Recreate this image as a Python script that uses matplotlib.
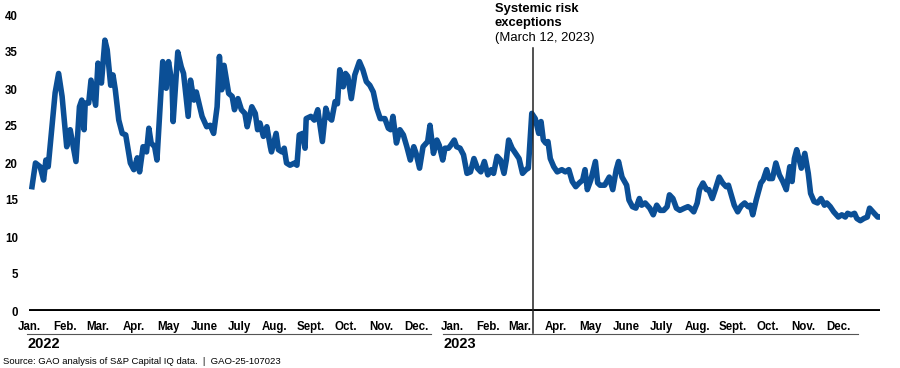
import matplotlib
matplotlib.use("Agg")
import matplotlib.pyplot as plt
import matplotlib.dates as mdates
import matplotlib.transforms as mtransforms
import numpy as np

plt.rcParams['font.family'] = ['Liberation Sans', 'DejaVu Sans']

# data: days after Jan. 3, 2022 and index level
start = np.datetime64('2022-01-03')
days = [0, 3, 7, 10, 12, 14, 17, 20, 23, 26, 30, 33, 38, 41, 43, 45, 46, 49, 51, 55,
        57, 60, 63, 65, 68, 70, 72, 75, 78, 81, 85, 88, 91, 93, 96, 99, 101, 103, 106, 108,
        111, 113, 116, 118, 121, 122, 126, 129, 131, 135, 137, 140, 142, 147, 151, 154, 157, 160, 162, 164,
        166, 170, 173, 175, 178, 181, 184, 186, 190, 193, 195, 197, 200, 203, 206, 207, 211, 213, 216, 218,
        220, 223, 227, 229, 231, 234, 236, 237, 241, 244, 247, 251, 254, 256, 259, 262, 264, 266, 269, 271,
        273, 276, 279, 283, 286, 289, 292, 295, 298, 301, 305, 308, 310, 312, 315, 318, 321, 324, 327, 330,
        332, 335, 338, 342, 344, 347, 350, 352, 355, 357, 360, 362, 365, 367, 370, 373, 376, 379, 382, 385,
        388, 391, 394, 397, 399, 402, 405, 408, 410, 412, 415, 418, 421, 424, 427, 429, 432, 435, 438, 440,
        442, 444, 446, 448, 451, 454, 458, 461, 464, 467, 470, 473, 476, 478, 480, 483, 487, 489, 491, 495,
        499, 502, 505, 507, 510, 514, 516, 519, 522, 525, 527, 530, 534, 537, 540, 543, 546, 549, 551, 554,
        557, 560, 564, 567, 569, 572, 575, 577, 580, 583, 585, 588, 591, 594, 597, 600, 602, 605, 607, 610,
        613, 616, 619, 621, 623, 626, 630, 632, 635, 637, 640, 643, 646, 649, 652, 655, 657, 659, 661, 665,
        668, 671, 673, 676, 679, 682, 685, 687, 690, 693, 697, 700, 703, 705, 708, 711, 713, 716, 719, 722,
        724, 728, 731, 733]
values = [16.8, 20.0, 19.5, 17.7, 20.4, 19.5, 24.5, 29.5, 32.1, 29.0, 22.2, 24.5, 20.2, 27.6, 28.5, 24.5, 28.1, 28.1, 31.2, 27.8,
          33.5, 30.8, 36.6, 35.3, 30.5, 31.9, 29.9, 25.8, 24.0, 23.8, 20.0, 19.1, 20.7, 18.8, 22.2, 21.5, 24.7, 22.7, 22.2, 20.4,
          28.5, 33.7, 30.1, 33.7, 30.8, 25.6, 35.0, 33.0, 32.1, 26.3, 31.2, 28.5, 29.6, 26.3, 24.9, 25.1, 24.0, 27.6, 34.4, 29.9,
          33.2, 29.4, 29.0, 27.2, 28.7, 27.2, 26.7, 24.9, 27.6, 26.7, 24.5, 25.4, 23.6, 24.9, 22.2, 21.5, 24.0, 21.8, 21.5, 22.0,
          20.0, 19.7, 20.0, 19.7, 23.8, 24.0, 22.0, 26.0, 26.3, 25.8, 27.2, 22.9, 27.4, 26.3, 25.8, 28.3, 28.0, 32.6, 30.3, 32.1,
          31.7, 28.7, 31.9, 33.7, 32.6, 31.0, 30.5, 29.6, 27.4, 26.0, 26.0, 24.7, 24.5, 26.3, 22.7, 24.5, 23.8, 22.2, 20.4, 22.2,
          21.3, 19.3, 22.2, 22.9, 25.1, 21.3, 23.1, 22.4, 20.4, 22.0, 22.0, 22.4, 23.1, 22.2, 22.0, 21.1, 18.6, 18.8, 20.6, 19.3,
          18.8, 20.2, 18.4, 19.1, 18.6, 20.9, 20.4, 18.6, 20.4, 23.1, 22.0, 21.3, 20.6, 18.6, 19.1, 19.3, 26.7, 26.0, 24.0, 25.6,
          23.1, 22.7, 22.9, 20.6, 19.5, 18.8, 19.1, 18.8, 19.1, 17.5, 16.8, 17.3, 17.7, 19.1, 16.4, 17.7, 20.2, 17.3, 17.0, 17.0,
          18.1, 16.4, 19.1, 20.2, 18.1, 17.0, 15.0, 14.1, 13.9, 15.2, 14.3, 14.6, 13.9, 13.0, 14.3, 13.6, 13.6, 14.1, 15.7, 15.2,
          13.9, 13.6, 13.9, 14.1, 13.9, 13.4, 14.6, 16.4, 17.3, 16.4, 16.4, 15.2, 16.6, 18.1, 17.3, 16.8, 17.0, 15.4, 14.3, 13.4,
          14.2, 14.6, 14.1, 14.3, 13.0, 15.0, 17.3, 17.7, 19.1, 17.9, 17.9, 20.0, 18.4, 17.5, 16.4, 19.5, 17.5, 20.6, 21.8, 19.3,
          21.3, 18.6, 15.9, 14.8, 14.6, 15.2, 14.3, 14.6, 14.1, 13.4, 12.7, 13.0, 12.7, 13.2, 13.0, 13.2, 12.5, 12.2, 12.5, 12.7,
          13.9, 13.2, 12.7, 12.7]

month_labels = ['Jan.', 'Feb.', 'Mar.', 'Apr.', 'May', 'June', 'July', 'Aug.',
                'Sept.', 'Oct.', 'Nov.', 'Dec.'] * 2
years = ['2022', '2023']
yticks = [0, 5, 10, 15, 20, 25, 30, 35, 40]
event_date = np.datetime64('2023-03-12')

dates = start + np.array(days).astype('timedelta64[D]')
blue = '#0b4f96'

fig = plt.figure(figsize=(9, 3.68), dpi=100)
ax = fig.add_axes([29 / 900, 1 - 311 / 368, 851 / 900, 296 / 368])

ax.plot(dates, values, color=blue, lw=4, solid_joinstyle='round', zorder=3)
ax.axhline(0, color='black', lw=2.8, zorder=4)

ax.set_ylim(0, 40)
ax.set_yticks(yticks)
ax.set_xlim(mdates.date2num(start) - 2.6, mdates.date2num(start) + 733)

month_starts = np.arange('2022-01', '2024-01', dtype='datetime64[M]').astype('datetime64[D]')
ax.set_xticks(month_starts)
ax.set_xticklabels(month_labels)

for s in ax.spines.values():
    s.set_visible(False)
ax.tick_params(axis='both', length=0, labelsize=8.3)
ax.tick_params(axis='y', pad=8)
ax.tick_params(axis='x', pad=7.5)
for lbl in ax.get_xticklabels() + ax.get_yticklabels():
    lbl.set_fontweight('bold')

# event line
ax.axvline(event_date, ymin=-0.074, ymax=0.889, color='#222222', lw=1.1, clip_on=False, zorder=5)
trans = mtransforms.blended_transform_factory(ax.transData, ax.transAxes)
tx = event_date - np.timedelta64(33, 'D')
ax.text(tx, 1.009, 'Systemic risk', transform=trans, fontsize=9.4, fontweight='bold', va='baseline')
ax.text(tx, 0.963, 'exceptions', transform=trans, fontsize=9.4, fontweight='bold', va='baseline')
ax.text(tx, 0.913, '(March 12, 2023)', transform=trans, fontsize=9.4, va='baseline')

# year underlines and labels
ax.plot([np.datetime64('2021-12-30'), np.datetime64('2022-12-14')], [-0.078, -0.078],
        transform=trans, color='#555555', lw=0.8, clip_on=False)
ax.plot([np.datetime64('2022-12-24'), np.datetime64('2023-12-18')], [-0.078, -0.078],
        transform=trans, color='#555555', lw=0.8, clip_on=False)
fig.text(28 / 900, 1 - 344 / 368, years[0], fontsize=10.5, fontweight='bold', va='center')
fig.text(444 / 900, 1 - 344 / 368, years[1], fontsize=10.5, fontweight='bold', va='center')

fig.text(3 / 900, 1 - 362 / 368, 'Source: GAO analysis of S&P Capital IQ data.  |  GAO-25-107023',
         fontsize=6.8, va='center')

fig.savefig('out.png', dpi=100)
